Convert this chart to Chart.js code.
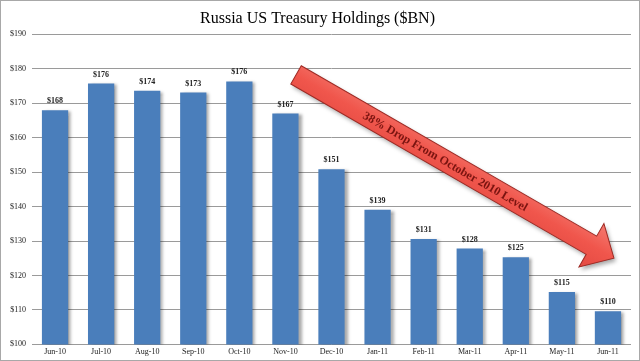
<!DOCTYPE html>
<html><head><meta charset="utf-8">
<script src="https://cdn.jsdelivr.net/npm/chart.js@4/dist/chart.umd.min.js"></script>
<style>html,body{margin:0;padding:0;background:#fff;}#wrap{width:640px;height:361px;}</style>
</head><body><div id="wrap"><canvas id="c" width="640" height="361"></canvas></div>
<script>
const categories = ["Jun-10","Jul-10","Aug-10","Sep-10","Oct-10","Nov-10","Dec-10","Jan-11","Feb-11","Mar-11","Apr-11","May-11","Jun-11"];
const holdings = [167.9,175.7,173.6,173.1,176.3,167.0,150.8,139.1,130.6,127.8,125.3,115.2,109.6];
const labels = ["$168","$176","$174","$173","$176","$167","$151","$139","$131","$128","$125","$115","$110"];
const titleText = "Russia US Treasury Holdings ($BN)";
const arrowText = "38% Drop From October 2010 Level";
// arrow annotation in data space: [category index, value]
const arrowStart = [5.23, 178.2];
const arrowEnd = [12.13, 125.0];

const serif = '"Liberation Serif", "DejaVu Serif", serif';

const shadowPlugin = {
  id: 'barShadow',
  beforeDatasetDraw(chart){ const c=chart.ctx; c.save(); c.shadowColor='rgba(0,0,0,0.35)'; c.shadowOffsetX=3; c.shadowOffsetY=1; c.shadowBlur=3; },
  afterDatasetDraw(chart){ chart.ctx.restore(); }
};
const labelPlugin = {
  id: 'valLabels',
  afterDatasetsDraw(chart){
    const c=chart.ctx, meta=chart.getDatasetMeta(0);
    c.save(); c.font='bold 8px '+serif; c.fillStyle='#222'; c.textAlign='center'; c.textBaseline='bottom';
    meta.data.forEach((b,i)=>{ c.fillText(labels[i], b.x, b.y-5); });
    c.restore();
  }
};
const arrowPlugin = {
  id: 'arrow',
  afterDatasetsDraw(chart){
    const c=chart.ctx, xs=chart.scales.x, ys=chart.scales.y;
    const px = v => xs.left + (v+0.5)*(xs.right-xs.left)/categories.length;
    const x0=px(arrowStart[0]), y0=ys.getPixelForValue(arrowStart[1]);
    const x1=px(arrowEnd[0]), y1=ys.getPixelForValue(arrowEnd[1]);
    const ang=Math.atan2(y1-y0,x1-x0), len=Math.hypot(x1-x0,y1-y0);
    const sw=10.5, hw=25, hl=26;
    c.save();
    c.translate(x0,y0); c.rotate(ang);
    c.beginPath();
    c.moveTo(0,-sw); c.lineTo(len-hl,-sw); c.lineTo(len-hl,-hw); c.lineTo(len,0);
    c.lineTo(len-hl,hw); c.lineTo(len-hl,sw); c.lineTo(0,sw); c.closePath();
    c.shadowColor='rgba(0,0,0,0.35)'; c.shadowOffsetX=2; c.shadowOffsetY=3; c.shadowBlur=4;
    const g=c.createLinearGradient(0,-hw,0,hw); g.addColorStop(0,'#f47a70'); g.addColorStop(0.5,'#f0564c'); g.addColorStop(1,'#e44a42');
    c.fillStyle=g; c.fill();
    c.shadowColor='transparent';
    c.strokeStyle='#9e2a24'; c.lineWidth=1; c.stroke();
    c.font='bold 12px '+serif; c.fillStyle='#7a1410'; c.textAlign='center'; c.textBaseline='middle';
    c.fillText(arrowText, (len-hl)/2+2, 1);
    c.restore();
  }
};
const framePlugin = {
  id: 'frame',
  afterDraw(chart){ const c=chart.ctx; c.save(); c.strokeStyle='#a8a8a8'; c.lineWidth=1; c.strokeRect(0.5,0.5,639,360); c.restore(); }
};

new Chart(document.getElementById('c'), {
  type: 'bar',
  data: { labels: categories, datasets: [{ data: holdings, backgroundColor: '#4a7ebb', barPercentage: 0.57, categoryPercentage: 1.0 }] },
  options: {
    responsive: false, animation: false,
    layout: { padding: { left: 4, right: 9, top: 4, bottom: 1 } },
    plugins: {
      legend: { display: false }, tooltip: { enabled: false },
      title: { display: true, text: titleText, color: '#000', font: { family: serif, size: 16, weight: 'normal' }, padding: { top: 5, bottom: 6 } }
    },
    scales: {
      x: { grid: { display: false, drawTicks: false }, border: { display: false },
           ticks: { color: '#222', font: { family: serif, size: 8 }, padding: 3, maxRotation: 0 } },
      y: { min: 100, max: 190, border: { display: false },
           grid: { color: '#9a9a9a', drawTicks: false, lineWidth: 1 },
           ticks: { stepSize: 10, color: '#222', font: { family: serif, size: 8 }, padding: 6, callback: v => '$' + v } }
    }
  },
  plugins: [shadowPlugin, labelPlugin, arrowPlugin, framePlugin]
});
</script></body></html>
